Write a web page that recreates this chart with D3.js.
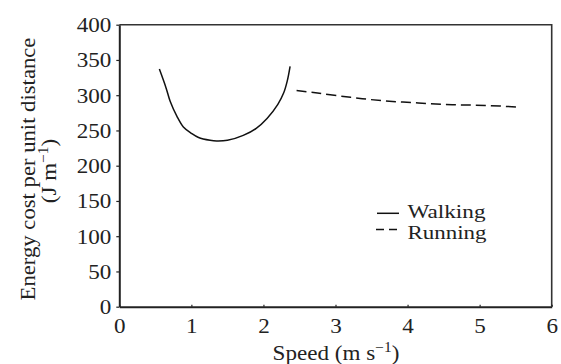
<!DOCTYPE html>
<html>
<head>
<meta charset="utf-8">
<script src="https://cdn.jsdelivr.net/npm/d3@7"></script>
<style>
  body { margin: 0; background: #fff; }
  svg text { font-family: "Liberation Serif", "Times New Roman", Times, serif; fill: #222; }
</style>
</head>
<body>
<script>
// chart values
const walkSpeed = [0.556, 0.65, 0.707, 0.8, 0.889, 1.0, 1.1, 1.26, 1.35, 1.5, 1.72, 1.9, 2.05, 2.2, 2.28, 2.33, 2.37];
const walkCost  = [337, 310, 291, 270, 255, 246, 240, 236, 235, 236, 243, 253, 267, 287, 303, 320, 341];
const runSpeed = [2.46, 2.75, 3.21, 3.67, 4.15, 4.62, 5.08, 5.57];
const runCost  = [306.5, 303, 297, 292, 289, 286.5, 285.5, 283];
const xTicks = [0, 1, 2, 3, 4, 5, 6];
const yTicks = [0, 50, 100, 150, 200, 250, 300, 350, 400];

const width = 561, height = 364;
const mLeft = 119.3, mRight = 551.7, mTop = 24.7, mBottom = 306.7;
const serif = "'Liberation Serif', 'Times New Roman', Times, serif";

// the scanned figure's type is a little wider than plain Times
function stretch(sel, k) {
  sel.each(function() {
    const w = this.getComputedTextLength();
    d3.select(this).attr("textLength", w * k).attr("lengthAdjust", "spacingAndGlyphs");
  });
}

const svg = d3.select("body").append("svg")
  .attr("width", width).attr("height", height);

const x = d3.scaleLinear().domain([0, 6]).range([mLeft, mRight]);
const y = d3.scaleLinear().domain([0, 400]).range([mBottom, mTop]);

// frame (top and right)
svg.append("path")
  .attr("d", `M${mLeft},${mTop}H${mRight}V${mBottom}`)
  .attr("fill", "none").attr("stroke", "#333").attr("stroke-width", 1.6);

// axes
const xAxis = svg.append("g").attr("transform", `translate(0,${mBottom})`)
  .call(d3.axisBottom(x).tickValues(xTicks).tickFormat(d3.format("d"))
    .tickSize(-2).tickSizeOuter(0).tickPadding(6));
const yAxis = svg.append("g").attr("transform", `translate(${mLeft},0)`)
  .call(d3.axisLeft(y).tickValues(yTicks).tickFormat(d3.format("d"))
    .tickSize(3).tickSizeOuter(0).tickPadding(5));

[xAxis, yAxis].forEach(g => {
  g.attr("font-family", serif);
  g.select(".domain").attr("stroke", "#222").attr("stroke-width", 2);
  g.selectAll(".tick line").attr("stroke", "#222").attr("stroke-width", 1.2);
  g.selectAll(".tick text").style("font-size", "21px")
    .style("font-family", serif).attr("fill", "#222");
  stretch(g.selectAll(".tick text"), 1.1);
});
xAxis.selectAll(".tick text").attr("dy", "0.95em");
yAxis.selectAll(".tick text").attr("dy", "0.33em");

// lines
const line = d3.line().x(d => x(d[0])).y(d => y(d[1])).curve(d3.curveCatmullRom);

svg.append("path")
  .datum(walkSpeed.map((s, i) => [s, walkCost[i]]))
  .attr("d", line)
  .attr("fill", "none").attr("stroke", "#111").attr("stroke-width", 1.5);

svg.append("path")
  .datum(runSpeed.map((s, i) => [s, runCost[i]]))
  .attr("d", line)
  .attr("fill", "none").attr("stroke", "#111").attr("stroke-width", 1.5)
  .attr("stroke-dasharray", "10,5");

// legend
const legend = svg.append("g");
legend.append("line").attr("x1", 377).attr("x2", 399).attr("y1", 213.3).attr("y2", 213.3)
  .attr("stroke", "#111").attr("stroke-width", 1.5);
legend.append("line").attr("x1", 376).attr("x2", 399).attr("y1", 229.5).attr("y2", 229.5)
  .attr("stroke", "#111").attr("stroke-width", 1.5).attr("stroke-dasharray", "8,5");
legend.append("text").attr("x", 407.5).attr("y", 217.5).style("font-size", "19px")
  .attr("textLength", 78).attr("lengthAdjust", "spacingAndGlyphs").text("Walking");
legend.append("text").attr("x", 407.5).attr("y", 238.5).style("font-size", "19px")
  .attr("textLength", 79).attr("lengthAdjust", "spacingAndGlyphs").text("Running");

// axis titles
const xt = svg.append("text").attr("x", (mLeft + mRight) / 2 + 0.5).attr("y", 360)
  .attr("text-anchor", "middle").style("font-size", "21px");
xt.append("tspan").text("Speed (m s");
xt.append("tspan").attr("dy", -8).style("font-size", "14px").text("\u22121");
xt.append("tspan").attr("dy", 8).text(")");
stretch(xt, 1.1);

const yt = svg.append("g").attr("transform", "translate(0,169) rotate(-90)");
const yt1 = yt.append("text").attr("x", 0).attr("y", 34.5).attr("text-anchor", "middle")
  .style("font-size", "21px").text("Energy cost per unit distance");
stretch(yt1, 1.08);
const yt2 = yt.append("text").attr("x", -2).attr("y", 56).attr("text-anchor", "middle")
  .style("font-size", "21px");
yt2.append("tspan").text("(J m");
yt2.append("tspan").attr("dy", -8).style("font-size", "14px").text("\u22121");
yt2.append("tspan").attr("dy", 8).text(")");
stretch(yt2, 1.1);
</script>
</body>
</html>
